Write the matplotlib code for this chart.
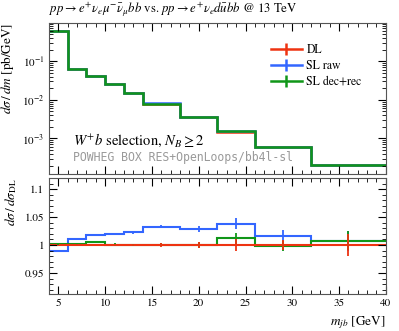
import numpy as np
import matplotlib.pyplot as plt
from matplotlib.lines import Line2D
from matplotlib.ticker import MultipleLocator, FuncFormatter, LogLocator, NullFormatter

plt.rcParams["font.family"] = ["STIXGeneral", "DejaVu Serif"]
plt.rcParams["mathtext.fontset"] = "stix"

# binning in m_jb [GeV]
edges = [4, 6, 8, 10, 12, 14, 18, 22, 26, 32, 40]
centers = [5, 7, 9, 11, 13, 16, 20, 24, 29, 36]

# main distribution [pb/GeV] (all three samples overlap at this scale)
xs_dl = [0.60, 0.063, 0.041, 0.025, 0.015, 0.0078, 0.0035, 0.0015, 0.00060, 0.00021]
xs_raw = [0.59, 0.064, 0.042, 0.025, 0.0153, 0.0081, 0.0036, 0.00155, 0.00061, 0.00021]
xs_dec = [0.60, 0.063, 0.041, 0.025, 0.015, 0.0078, 0.0035, 0.00152, 0.00060, 0.00021]

# ratios to DL
r_dl = [1.0] * 10
r_raw = [0.989, 1.011, 1.018, 1.020, 1.023, 1.033, 1.029, 1.038, 1.017, 1.007]
r_dec = [1.002, 1.002, 1.005, 1.001, 1.000, 1.001, 1.000, 1.012, 0.999, 1.008]

# ratio uncertainties
e_dl = [0.001, 0.002, 0.002, 0.002, 0.002, 0.003, 0.005, 0.010, 0.009, 0.019]
e_raw = [0.001, 0.002, 0.002, 0.002, 0.003, 0.003, 0.005, 0.010, 0.010, 0.018]
e_dec = [0.001, 0.002, 0.002, 0.002, 0.002, 0.003, 0.005, 0.010, 0.009, 0.017]

series = [
    ("DL", xs_dl, r_dl, e_dl, "#EE3311"),
    ("SL raw", xs_raw, r_raw, e_raw, "#3366FF"),
    ("SL dec+rec", xs_dec, r_dec, e_dec, "#109618"),
]

fig = plt.figure(figsize=(3.99, 3.31), dpi=100)
ax = fig.add_axes([0.123, 0.474, 0.844, 0.4565])
rax = fig.add_axes([0.123, 0.112, 0.844, 0.350], sharex=ax)

for (lab, xs, r, e, c) in series:
    ax.stairs(xs, edges, color=c, lw=1.8, baseline=None)

ax.set_yscale("log")
ax.set_xlim(4, 40)
ax.set_ylim(1.2e-4, 0.97)
ax.yaxis.set_major_locator(LogLocator(base=10, numticks=10))
ax.yaxis.set_minor_locator(LogLocator(base=10, subs=np.arange(2, 10), numticks=10))
ax.yaxis.set_minor_formatter(NullFormatter())
ax.set_ylabel(r"$d\sigma\,/\,dm$ [pb/GeV]", fontsize=9.5, loc="top")
ax.tick_params(labelbottom=False)

ax.text(0.0, 1.025, r"$pp \to e^{+}\nu_e\mu^{-}\bar{\nu}_\mu b\bar{b}$ vs. $pp \to e^{+}\nu_e d\bar{u} b\bar{b}$ @ 13 TeV",
        transform=ax.transAxes, fontsize=9.2, ha="left", va="bottom")
ax.text(0.07, 0.225, r"$W^{+}b$ selection, $N_B \geq 2$", transform=ax.transAxes, fontsize=10.5, va="center")
ax.text(0.07, 0.11, "POWHEG BOX RES+OpenLoops/bb4l-sl", transform=ax.transAxes, fontsize=8.3,
        va="center", color="#999999", family="DejaVu Sans Mono")

handles = [Line2D([], [], color=c, lw=1.8, marker="|", markersize=9, markeredgewidth=1.8)
           for (lab, xs, r, e, c) in series]
ax.legend(handles, [s[0] for s in series], loc="upper right", bbox_to_anchor=(0.96, 0.93),
          frameon=False, fontsize=8.5, handlelength=2.6, handletextpad=0.4,
          labelspacing=0.35, numpoints=1)

# ratio panel
for (lab, xs, r, e, c) in [series[1], series[2], series[0]]:
    rax.stairs(r, edges, color=c, lw=1.5, baseline=None)
    rax.errorbar(centers, r, yerr=e, fmt="none", ecolor=c, elinewidth=1.3, capsize=0)

rax.set_ylim(0.9125, 1.12)
rax.yaxis.set_major_locator(MultipleLocator(0.05))
rax.yaxis.set_minor_locator(MultipleLocator(0.01))
rax.yaxis.set_major_formatter(FuncFormatter(lambda v, p: f"{v:g}"))
rax.set_ylabel(r"$d\sigma\,/\,d\sigma_{\rm DL}$", fontsize=9.5, loc="top")
rax.set_xlabel(r"$m_{jb}$ [GeV]", fontsize=9.5, loc="right")
rax.xaxis.set_major_locator(MultipleLocator(5))
rax.xaxis.set_minor_locator(MultipleLocator(1))

for a in (ax, rax):
    a.tick_params(which="both", direction="in", top=True, right=True, labelsize=8)
    a.tick_params(which="major", length=6)
    a.tick_params(which="minor", length=3)
    for s in a.spines.values():
        s.set_color("#555555")

fig.savefig("out.png", dpi=100)
